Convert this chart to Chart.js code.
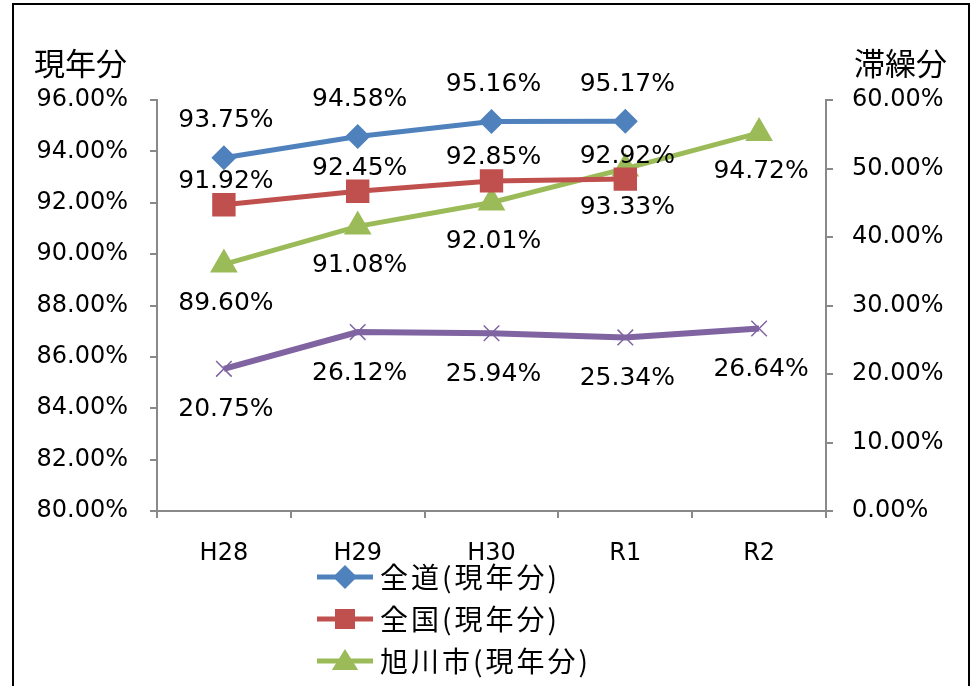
<!DOCTYPE html>
<html>
<head>
<meta charset="utf-8">
<script src="https://cdn.jsdelivr.net/npm/chart.js@4/dist/chart.umd.min.js"></script>
<style>
  body { margin: 0; background: #fff; }
  canvas { display: block; }
</style>
</head>
<body>
<canvas id="rateChart" width="979" height="686"></canvas>
<script>
const categories = ['H28', 'H29', 'H30', 'R1', 'R2'];
const zendoGen = [93.75, 94.58, 95.16, 95.17, null];
const zenkokuGen = [91.92, 92.45, 92.85, 92.92, null];
const asahikawaGen = [89.60, 91.08, 92.01, 93.33, 94.72];
const asahikawaTai = [20.75, 26.12, 25.94, 25.34, 26.64];
const leftRange = [80, 96, 2];
const rightRange = [0, 60, 10];

const numFont = 'DejaVu Sans';
const cjkFont = '"Noto Sans CJK JP"';
const axisGray = '#898989';

function pct(v) { return v.toFixed(2) + '%'; }

function legendMarker(ctx, style, x, y, r, color) {
    ctx.save();
    ctx.fillStyle = color;
    ctx.strokeStyle = color;
    ctx.beginPath();
    if (style === 'rectRot') {
        ctx.moveTo(x, y - r); ctx.lineTo(x + r, y); ctx.lineTo(x, y + r); ctx.lineTo(x - r, y);
        ctx.closePath(); ctx.fill();
    } else if (style === 'rect') {
        ctx.rect(x - r, y - r, 2 * r, 2 * r); ctx.fill();
    } else if (style === 'triangle') {
        ctx.moveTo(x, y - r); ctx.lineTo(x + r * 1.1, y + r * 0.75); ctx.lineTo(x - r * 1.1, y + r * 0.75);
        ctx.closePath(); ctx.fill();
    } else {
        ctx.lineWidth = 2;
        ctx.moveTo(x - r, y - r); ctx.lineTo(x + r, y + r);
        ctx.moveTo(x + r, y - r); ctx.lineTo(x - r, y + r);
        ctx.stroke();
    }
    ctx.restore();
}

const framePlugin = {
    id: 'frame',
    beforeDraw(chart) {
        const ctx = chart.ctx;
        ctx.save();
        ctx.fillStyle = '#fff';
        ctx.fillRect(0, 0, chart.width, chart.height);
        ctx.strokeStyle = '#000';
        ctx.lineWidth = 2;
        ctx.strokeRect(13, 4, 956, chart.height + 20);
        ctx.restore();
    }
};

const labelPlugin = {
    id: 'pointLabels',
    afterDatasetsDraw(chart) {
        const ctx = chart.ctx;
        ctx.save();
        ctx.font = '25px ' + numFont;
        ctx.fillStyle = '#000';
        ctx.textAlign = 'center';
        ctx.textBaseline = 'middle';
        chart.data.datasets.forEach((ds, i) => {
            chart.getDatasetMeta(i).data.forEach((pt, j) => {
                const v = ds.data[j];
                if (v == null) return;
                ctx.fillText(pct(v), pt.x + 2, pt.y + ds.labelOffset);
            });
        });
        ctx.restore();
    }
};

const titlesLegendPlugin = {
    id: 'titlesLegend',
    afterDraw(chart) {
        const ctx = chart.ctx;
        const area = chart.chartArea;
        ctx.save();
        ctx.fillStyle = '#000';
        ctx.textBaseline = 'middle';
        ctx.font = '31px ' + cjkFont;
        ctx.textAlign = 'left';
        ctx.fillText('現年分', 34, 63);
        ctx.textAlign = 'right';
        ctx.fillText('滞繰分', 947, 63);

        // legend, stacked vertically under the x axis (4th entry falls below the frame)
        ctx.font = '28px ' + cjkFont;
        ctx.textAlign = 'left';
        const x0 = area.left + 160;
        let y = area.bottom + 66;
        chart.data.datasets.forEach(ds => {
            ctx.strokeStyle = ds.borderColor;
            ctx.lineWidth = 5;
            ctx.beginPath();
            ctx.moveTo(x0, y);
            ctx.lineTo(x0 + 56, y);
            ctx.stroke();
            legendMarker(ctx, ds.pointStyle, x0 + 28, y, ds.pointStyle === 'rect' ? 10 : 12, ds.borderColor);
            ctx.fillStyle = '#000';
            ctx.letterSpacing = '3px';
            ctx.fillText(ds.label, x0 + 63, y);
            ctx.letterSpacing = '0px';
            y += 42;
        });
        ctx.restore();
    }
};

new Chart(document.getElementById('rateChart').getContext('2d'), {
    type: 'line',
    data: {
        labels: categories,
        datasets: [{
            label: '全道(現年分)',
            data: zendoGen,
            yAxisID: 'yLeft',
            borderColor: '#4F81BD',
            backgroundColor: '#4F81BD',
            borderWidth: 5,
            pointStyle: 'rectRot',
            pointRadius: 9,
            labelOffset: -37
        }, {
            label: '全国(現年分)',
            data: zenkokuGen,
            yAxisID: 'yLeft',
            borderColor: '#C0504D',
            backgroundColor: '#C0504D',
            borderWidth: 5,
            pointStyle: 'rect',
            pointRadius: 13,
            labelOffset: -23
        }, {
            label: '旭川市(現年分)',
            data: asahikawaGen,
            yAxisID: 'yLeft',
            borderColor: '#9BBB59',
            backgroundColor: '#9BBB59',
            borderWidth: 5,
            pointStyle: 'triangle',
            pointRadius: 11,
            labelOffset: 39
        }, {
            label: '旭川市(滞繰分)',
            data: asahikawaTai,
            yAxisID: 'yRight',
            borderColor: '#8064A2',
            backgroundColor: '#8064A2',
            borderWidth: 6,
            pointStyle: 'crossRot',
            pointRadius: 11,
            pointBorderWidth: 1.5,
            labelOffset: 41
        }]
    },
    options: {
        responsive: false,
        animation: false,
        layout: { padding: { top: 100, bottom: 115, left: 0, right: 0 } },
        plugins: {
            legend: { display: false },
            tooltip: { enabled: false }
        },
        elements: { line: { tension: 0 } },
        scales: {
            x: {
                offset: true,
                grid: { offset: true, drawOnChartArea: false, drawTicks: true, tickLength: 7, color: axisGray, lineWidth: 2 },
                border: { color: axisGray, width: 2 },
                ticks: { color: '#000', font: { family: numFont, size: 24 }, padding: 21 },
                afterFit(s) { s.height = 60; }
            },
            yLeft: {
                position: 'left',
                min: leftRange[0], max: leftRange[1],
                grid: { drawOnChartArea: false, tickLength: 7, color: axisGray, lineWidth: 2 },
                border: { color: axisGray, width: 2 },
                ticks: { stepSize: leftRange[2], color: '#000', font: { family: numFont, size: 24 }, padding: 22, callback: v => pct(v) },
                afterFit(s) { s.width = 157; }
            },
            yRight: {
                position: 'right',
                min: rightRange[0], max: rightRange[1],
                grid: { drawOnChartArea: false, tickLength: 7, color: axisGray, lineWidth: 2 },
                border: { color: axisGray, width: 2 },
                ticks: { stepSize: rightRange[2], color: '#000', font: { family: numFont, size: 24 }, padding: 19, callback: v => pct(v) },
                afterFit(s) { s.width = 153; }
            }
        }
    },
    plugins: [framePlugin, labelPlugin, titlesLegendPlugin]
});
</script>
</body>
</html>
